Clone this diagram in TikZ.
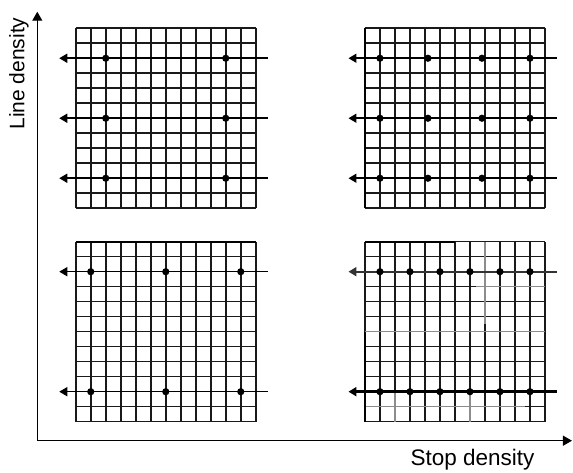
\documentclass[tikz,border=0pt]{standalone}
\usepackage{fontspec}
\setmainfont{Liberation Sans}
\usepackage{tikz}
\usetikzlibrary{arrows.meta}

\begin{document}
\begin{tikzpicture}[
	x=15pt, y=15pt,
	every node/.style={font=\fontsize{21}{25}\selectfont},
	line join=round,
	gridline/.style={line width=1.5pt, black!90},
	greyline/.style={line width=1.6pt, black!45},
	edgeline/.style={line width=2pt, black},
	lineroute/.style={line width=1.5pt, -{Triangle[length=8pt,width=9pt]}},
	stopdot/.style={black},
	axis/.style={line width=1.2pt, -{Triangle[length=9pt,width=10pt]}}
	]
	\useasboundingbox (0,0) rectangle (38.2,31.533);
	
	\coordinate (origin) at (2.487,2.153);
	\coordinate (ytip) at (2.487,30.75);
	\coordinate (xtip) at (38.13,2.153);
	\draw[axis] (origin) -- (ytip);
	\draw[axis] (origin) -- (xtip);
	\node[rotate=90] (ylabel) at (1.267,26.63) {Line density};
	\node[anchor=base, font=\fontsize{22.5}{26}\selectfont] (xlabel) at (31.5,0.467) {Stop density};
	
	\begin{scope}[shift={(5.05,17.65)}]
		\foreach \i in {0,...,12} {
			\draw[gridline] (\i,0) -- (\i,12);
			\draw[gridline] (0,\i) -- (12,\i);
		}
		\foreach \y in {2,6,10} {
			\draw[lineroute] (12.8,\y) -- (-1.1,\y);
			\foreach \x in {2,10}
				\fill[stopdot] (\x,\y) circle (3.6pt);
		}
	\end{scope}
	
	\begin{scope}[shift={(24.33,17.65)}]
		\foreach \i in {0,...,12} {
			\draw[gridline] (\i,0) -- (\i,12);
			\draw[gridline] (0,\i) -- (12,\i);
		}
		\draw[edgeline] (0,0) -- (0,12);
		\foreach \y in {2,6,10} {
			\draw[lineroute] (12.8,\y) -- (-1.1,\y);
			\foreach \x in {1,4.2,7.8,11}
				\fill[stopdot] (\x,\y) circle (3.6pt);
		}
	\end{scope}
	
	\begin{scope}[shift={(5.05,3.42)}]
		\foreach \i in {0,...,12} {
			\draw[gridline] (\i,0) -- (\i,12);
			\draw[gridline] (0,\i) -- (12,\i);
		}
		\draw[edgeline] (0,12) -- (12,12);
		\foreach \y in {2,10} {
			\draw[lineroute] (12.8,\y) -- (-1.1,\y);
			\foreach \x in {1,6,11}
				\fill[stopdot] (\x,\y) circle (3.6pt);
		}
	\end{scope}
	
	\begin{scope}[shift={(24.33,3.42)}]
		\foreach \i in {0,...,12} {
			\draw[gridline] (\i,0) -- (\i,12);
			\draw[gridline] (0,\i) -- (12,\i);
		}
		\draw[greyline] (8,12) -- (8,6.5);
		\draw[greyline] (7.4,9) -- (12,9);
		\draw[greyline] (0,6) -- (12,6);
		\draw[greyline] (2,0) -- (2,2);
		\draw[greyline] (7,0) -- (7,2);
		\draw[greyline] (0,1) -- (10.7,1);
		\draw[edgeline] (0,12) -- (6,12);
		\draw[edgeline] (0,0) -- (0,6);
		\draw[lineroute, line width=2.3pt, black!80] (12.8,10) -- (-1.1,10);
		\draw[lineroute, line width=2.8pt] (12.8,2) -- (-1.1,2);
		\foreach \y in {2,10}
			\foreach \x in {1,3,5,7,9,11}
				\fill[stopdot] (\x,\y) circle (3.6pt);
	\end{scope}
\end{tikzpicture}
\end{document}
